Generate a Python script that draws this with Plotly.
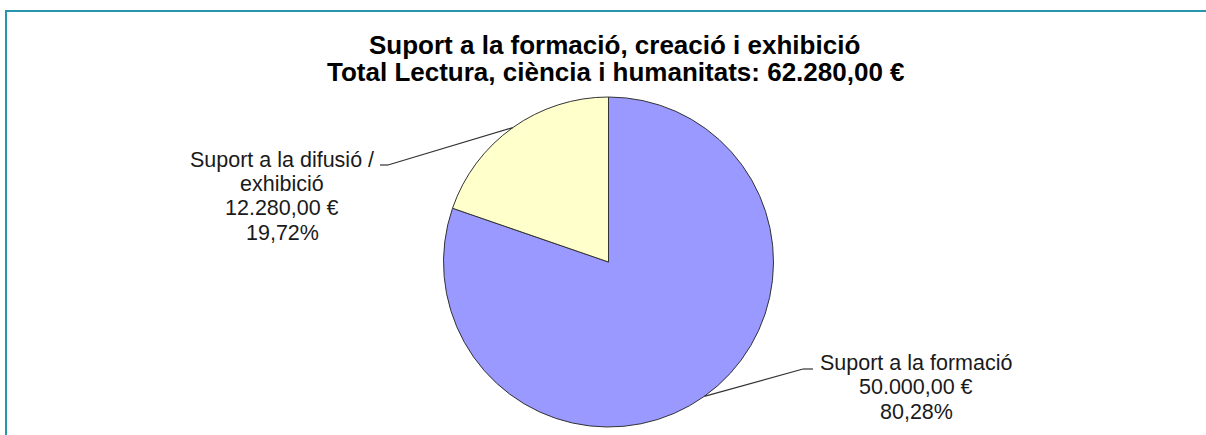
import math
import plotly.graph_objects as go

# ---- data ----
categories = ["Suport a la formació", "Suport a la difusió / exhibició"]
values = [50000.00, 12280.00]
label_lines = [["Suport a la formació"], ["Suport a la difusió /", "exhibició"]]
title_line1 = "Suport a la formació, creació i exhibició"
title_prefix2 = "Total Lectura, ciència i humanitats: "
colors = ["#9999FF", "#FFFFCC"]

# ---- layout constants (pixels) ----
W, H = 1206, 435
CX, CY, R = 608.5, 262, 165
# per-slice label layout: (text center x, first line center y, elbow x, elbow y, end x)
label_layout = [
    (916, 362.5, 803, 369, 813),
    (282, 159.5, 388, 165, 380),
]
LINE_H = 24.5
LABEL_FS = 21.5
TITLE_FS = 26


def px(x):
    return x / W


def py(y):
    return 1 - y / H


def fmt_eur(v):
    s = f"{v:,.2f}".replace(",", "X").replace(".", ",").replace("X", ".")
    return s + " €"


def fmt_pct(p):
    return f"{p:.2f}".replace(".", ",") + "%"


total = sum(values)

fig = go.Figure()
fig.add_trace(go.Pie(
    labels=categories,
    values=values,
    sort=False,
    direction="clockwise",
    rotation=0,
    marker=dict(colors=colors, line=dict(color="#333333", width=1)),
    textinfo="none",
    hoverinfo="label+value+percent",
    showlegend=False,
    domain=dict(x=[px(CX - R), px(CX + R)], y=[py(CY + R), py(CY - R)]),
))

annotations = []
shapes = []

# title
annotations.append(dict(text=f"<b>{title_line1}</b>", x=px(614), y=py(45),
                        xref="paper", yref="paper", showarrow=False,
                        xanchor="center", yanchor="middle",
                        font=dict(family="Liberation Sans, Arial", size=TITLE_FS, color="#000000")))
annotations.append(dict(text=f"<b>{title_prefix2}{fmt_eur(total)}</b>", x=px(615.5), y=py(71.5),
                        xref="paper", yref="paper", showarrow=False,
                        xanchor="center", yanchor="middle",
                        font=dict(family="Liberation Sans, Arial", size=TITLE_FS, color="#000000")))

# slice labels with leader lines
cum = 0.0
for i, v in enumerate(values):
    frac = v / total
    mid = (cum + frac / 2) * 2 * math.pi  # clockwise from 12 o'clock
    cum += frac
    sx = CX + R * math.sin(mid)
    sy = CY - R * math.cos(mid)
    tx, ty, ex, ey, endx = label_layout[i]
    lines = label_lines[i] + [fmt_eur(v), fmt_pct(frac * 100)]
    for k, t in enumerate(lines):
        annotations.append(dict(text=t, x=px(tx), y=py(ty + k * LINE_H),
                                xref="paper", yref="paper", showarrow=False,
                                xanchor="center", yanchor="middle",
                                font=dict(family="Liberation Sans, Arial", size=LABEL_FS, color="#1a1a1a")))
    shapes.append(dict(type="line", xref="paper", yref="paper",
                       x0=px(sx), y0=py(sy), x1=px(ex), y1=py(ey),
                       line=dict(color="#333333", width=1.2)))
    shapes.append(dict(type="line", xref="paper", yref="paper",
                       x0=px(ex), y0=py(ey), x1=px(endx), y1=py(ey),
                       line=dict(color="#333333", width=1.2)))

# frame border (top and left)
shapes.append(dict(type="line", xref="paper", yref="paper",
                   x0=px(5), y0=py(11), x1=1, y1=py(11),
                   line=dict(color="#2596AE", width=2)))
shapes.append(dict(type="line", xref="paper", yref="paper",
                   x0=px(6), y0=py(10), x1=px(6), y1=0,
                   line=dict(color="#2596AE", width=2)))

fig.update_layout(
    width=W, height=H, autosize=False,
    margin=dict(l=0, r=0, t=0, b=0),
    paper_bgcolor="white", plot_bgcolor="white",
    annotations=annotations, shapes=shapes,
    font=dict(family="Liberation Sans, Arial"),
)

fig.write_html(
    "out.html",
    config={"displayModeBar": False},
    post_script="document.body.style.margin='0';document.body.style.overflow='hidden';",
)
